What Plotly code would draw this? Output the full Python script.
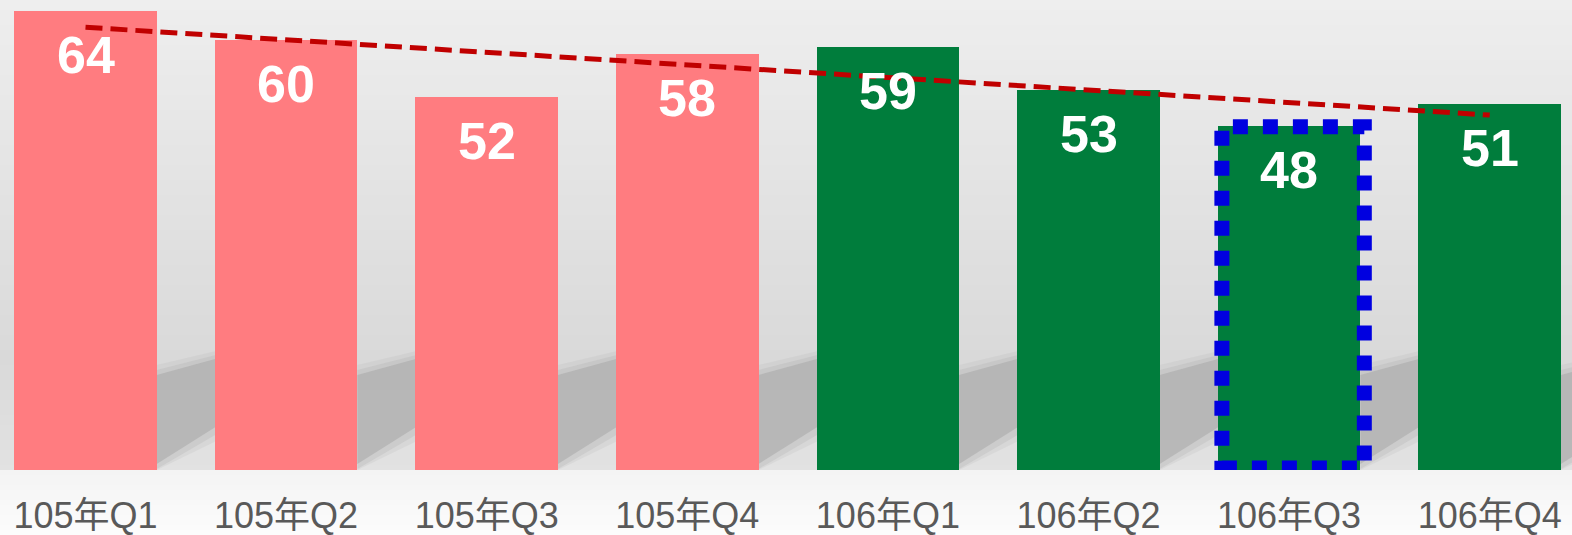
import numpy as np
import plotly.graph_objects as go

categories = ["105年Q1", "105年Q2", "105年Q3", "105年Q4", "106年Q1", "106年Q2", "106年Q3", "106年Q4"]
values = [64, 60, 52, 58, 59, 53, 48, 51]
highlight = "106年Q3"

W, H = 1572, 535
BASE_PX = 470          # pixel row of the bar baseline
PX_PER_CAT = 200.6
FIRST_CENTER_PX = 85.5
PX_PER_UNIT = 7.17
BAR_W = 0.71

pink, green = "#FF7C80", "#007D3C"
colors = [pink if c.startswith("105") else green for c in categories]

x_idx = np.arange(len(categories))
slope, intercept = np.polyfit(x_idx, values, 1)
trend = intercept + slope * x_idx

fig = go.Figure()

# background gradient bands (paper coordinates)
stops = [(0, 238), (360, 217), (469, 226), (472, 244), (535, 252)]
def shade(px):
    for (p0, c0), (p1, c1) in zip(stops[:-1], stops[1:]):
        if p0 <= px <= p1:
            t = (px - p0) / (p1 - p0) if p1 > p0 else 0
            return int(round(c0 + t * (c1 - c0)))
    return stops[-1][1]

step = 5
shapes = []
for top in range(0, H, step):
    bot = min(top + step, H)
    g = shade((top + bot) / 2)
    shapes.append(dict(type="rect", xref="paper", yref="paper", layer="below",
                       x0=0, x1=1, y0=(BASE_PX - bot) / BASE_PX, y1=(BASE_PX - top) / BASE_PX,
                       line=dict(width=0), fillcolor=f"rgb({g},{g},{g})"))

# bar shadows
def dx(px):
    return px / PX_PER_CAT
def dy(px):
    return px / PX_PER_UNIT
for i in range(len(categories)):
    xr = i + BAR_W / 2
    for (pad, op) in [(10, 0.15), (5, 0.25), (0, 0.6)]:
        path = (f"M {xr},{dy(max(0, 6 - pad))} "
                f"L {xr + dx(62 + pad)},{dy(45 - pad)} "
                f"L {xr + dx(62 + pad)},{dy(112 + pad)} "
                f"L {xr},{dy(95 + pad)} Z")
        shapes.append(dict(type="path", xref="x", yref="y", layer="below", path=path,
                           line=dict(width=0), fillcolor=f"rgba(170,170,170,{op})"))

fig.add_trace(go.Bar(x=categories, y=values, width=BAR_W, marker=dict(color=colors, line=dict(width=0)),
                     hoverinfo="skip", showlegend=False))

fig.add_trace(go.Scatter(x=categories, y=trend, mode="lines",
                         line=dict(color="#C00000", width=5, dash="17px,8px"),
                         hoverinfo="skip", showlegend=False))

# highlight box
hi = categories.index(highlight)
shapes.append(dict(type="rect", xref="x", yref="y", layer="above",
                   x0=hi - BAR_W / 2 + dx(4), x1=hi + BAR_W / 2 + dx(4),
                   y0=dy(2), y1=values[hi] - dy(1),
                   line=dict(color="#0000E0", width=15, dash="dot")))

annotations = []
for c, v in zip(categories, values):
    annotations.append(dict(x=c, y=v, xref="x", yref="y", text=str(v), showarrow=False,
                            yanchor="middle", yshift=-44,
                            font=dict(family="Liberation Sans, Arial", size=52, color="white", weight="bold")))

x0 = -FIRST_CENTER_PX / PX_PER_CAT
fig.update_layout(
    width=W, height=H,
    margin=dict(l=0, r=0, t=0, b=H - BASE_PX),
    paper_bgcolor="#F7F7F7", plot_bgcolor="rgba(0,0,0,0)",
    shapes=shapes, annotations=annotations,
    bargap=0,
    hovermode=False,
    xaxis=dict(type="category", range=[x0, x0 + W / PX_PER_CAT],
               showgrid=False, zeroline=False, showline=False, ticks="",
               ticklabelstandoff=21,
               tickfont=dict(family="Liberation Sans, Noto Sans CJK TC", size=36, color="#595959")),
    yaxis=dict(visible=False, range=[0, BASE_PX / PX_PER_UNIT]),
)

fig.write_html("out.html", config={"displayModeBar": False, "staticPlot": True},
               post_script="document.body.style.margin='0';document.body.style.overflow='hidden';")
